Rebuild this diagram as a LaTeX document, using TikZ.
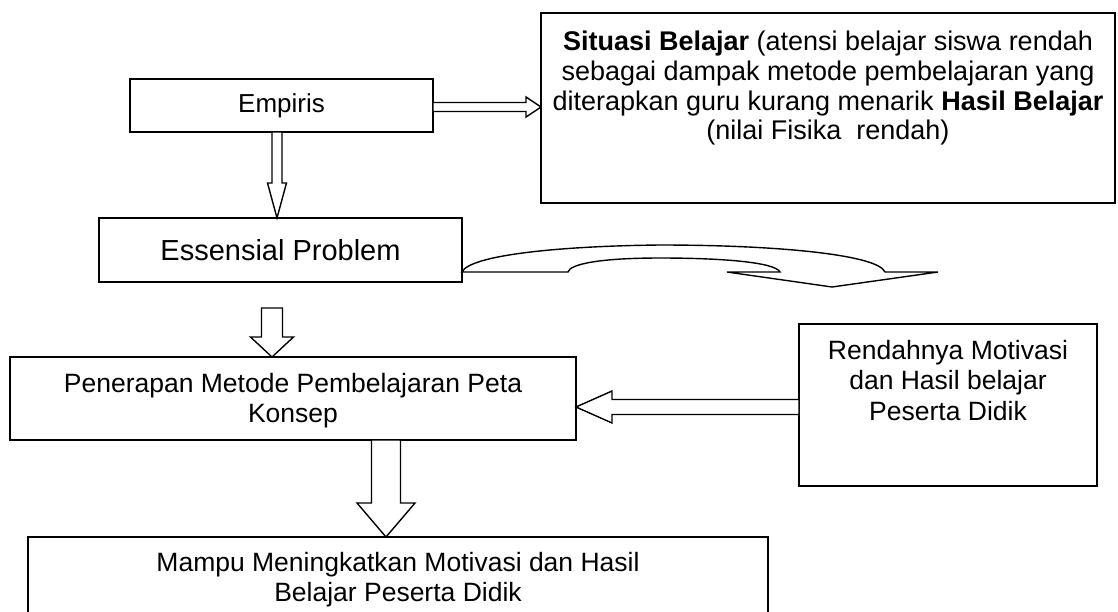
\documentclass[tikz,border=0pt]{standalone}
\usepackage{fontspec}
\setmainfont{Liberation Sans}
\usetikzlibrary{calc}
\tikzset{
  box/.style={draw, line width=1.5pt, inner sep=0pt, outer sep=0pt},
  txt/.style={inner sep=0pt, align=center, font=\fontsize{26.5}{30.5}\selectfont},
  arr/.style={draw, line width=1.4pt, fill=white, line join=miter},
}
\newcommand\blkarrow[5]{%
  \coordinate (bh) at ($(#2)!#5!(#1)$);
  \draw[arr] ($(#1)!#3!90:(#2)$) -- ($(bh)!#3!90:(#2)$) -- ($(bh)!#4!90:(#2)$) -- (#2)
     -- ($(bh)!#4!-90:(#2)$) -- ($(bh)!#3!-90:(#2)$) -- ($(#1)!#3!-90:(#2)$) -- cycle;
}
\begin{document}
\begin{tikzpicture}[x=1pt,y=-1pt]
\useasboundingbox (0,0) rectangle (1118,611);
\clip (0,0) rectangle (1118,611);
% boxes
\node[box, minimum width=303pt, minimum height=53pt] (emp) at (281.5,105.5) {};
\node[box, minimum width=574pt, minimum height=190pt] (sit) at (828,108) {};
\node[box, minimum width=363pt, minimum height=64pt] (ess) at (280.5,250) {};
\node[box, minimum width=566pt, minimum height=83pt] (pen) at (293,398.5) {};
\node[box, minimum width=298pt, minimum height=162pt] (ren) at (948,405) {};
\node[box, minimum width=740pt, minimum height=93pt] (mam) at (398,583.5) {};
% texts
\node[txt, font=\fontsize{26}{30}\selectfont] (tEmp) at (emp.center) {Empiris};
\node[txt, font=\fontsize{29}{33}\selectfont] (tEss) at (ess.center) {Essensial Problem};
\node[txt, anchor=north, font=\fontsize{27}{29.7}\selectfont] (tSit) at ($(sit.north)+(0,18)$)
  {\textbf{Situasi Belajar} (atensi belajar siswa rendah\\
   sebagai dampak metode pembelajaran yang\\
   diterapkan guru kurang menarik \textbf{Hasil Belajar}\\
   (nilai Fisika\ \ rendah)};
\node[txt, anchor=north] (tPen) at ($(pen.north)+(0,16)$)
  {Penerapan Metode Pembelajaran Peta\\Konsep};
\node[txt, anchor=north] (tRen) at ($(ren.north)+(0,16)$)
  {Rendahnya Motivasi\\dan Hasil belajar\\Peserta Didik};
\node[txt, anchor=north] (tMam) at ($(mam.north)+(0,15)$)
  {Mampu Meningkatkan Motivasi dan Hasil\\Belajar Peserta Didik};
% arrows
\coordinate (a1s) at ($(emp.east)+(0,1.5)$);
\coordinate (a1e) at (a1s -| sit.west);
\blkarrow{a1s}{a1e}{4.5pt}{10pt}{15pt}
\coordinate (a2s) at ($(emp.south)+(-4.5,0)$);
\coordinate (a2e) at (a2s |- ess.north);
\blkarrow{a2s}{a2e}{5pt}{9.5pt}{35pt}
\coordinate (a3s) at (272,308);
\coordinate (a3e) at (a3s |- pen.north);
\blkarrow{a3s}{a3e}{10.5pt}{21.5pt}{20pt}
\coordinate (a4s) at ($(ren.west)+(0,2)$);
\coordinate (a4e) at (a4s -| pen.east);
\blkarrow{a4s}{a4e}{7.5pt}{16pt}{36pt}
\coordinate (a5s) at ($(pen.south)+(93,0)$);
\coordinate (a5e) at (a5s |- mam.north);
\blkarrow{a5s}{a5e}{14.5pt}{29pt}{34pt}
% curved arrow
\coordinate (cs) at ($(ess.south east)+(0,-10)$);
\draw[arr] (cs) .. controls (470,255) and (560,246) .. (660,245)
  .. controls (780,245) and (878,255) .. (885,272) -- (938,272) -- (832,287)
  -- (727,272) -- (780,272) .. controls (775,262) and (720,258) .. (660,258)
  .. controls (600,258) and (570,264) .. (568,272) -- cycle;
\end{tikzpicture}
\end{document}
